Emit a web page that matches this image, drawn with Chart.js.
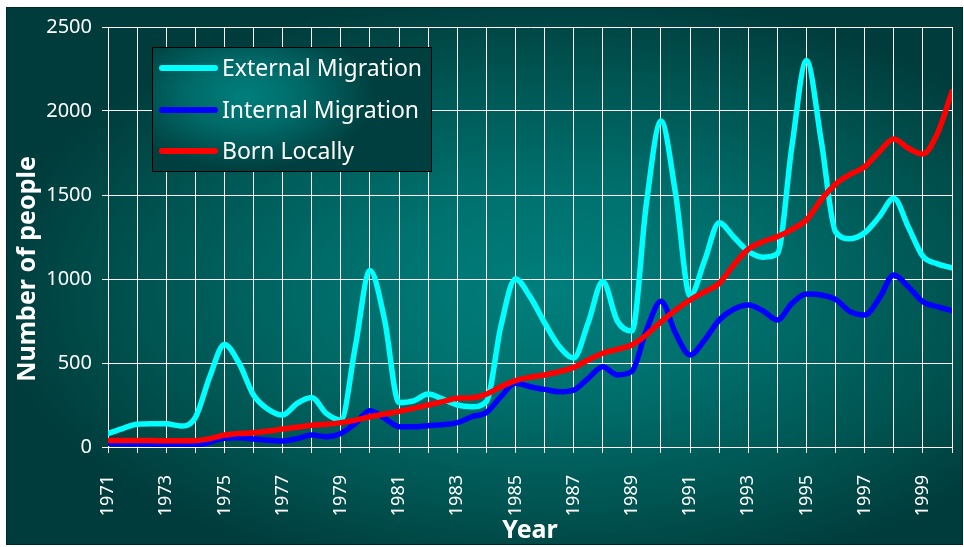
<!DOCTYPE html>
<html>
<head>
<meta charset="utf-8">
<script src="https://cdn.jsdelivr.net/npm/chart.js@4/dist/chart.umd.min.js"></script>
<style>
  html, body { margin: 0; padding: 0; background: #ffffff; }
  #wrap { width: 964px; height: 547px; }
</style>
</head>
<body>
<div id="wrap"><canvas id="chart" width="964" height="547"></canvas></div>
<script>
// Half-yearly readings, 1971 to 2000
const years = [
  1971, 1971.5, 1972, 1972.5, 1973, 1973.5, 1974, 1974.5, 1975, 1975.5,
  1976, 1976.5, 1977, 1977.5, 1978, 1978.5, 1979, 1979.5, 1980, 1980.5,
  1981, 1981.5, 1982, 1982.5, 1983, 1983.5, 1984, 1984.5, 1985, 1985.5,
  1986, 1986.5, 1987, 1987.5, 1988, 1988.5, 1989, 1989.5, 1990, 1990.5,
  1991, 1991.5, 1992, 1992.5, 1993, 1993.5, 1994, 1994.5, 1995, 1995.5,
  1996, 1996.5, 1997, 1997.5, 1998, 1998.5, 1999, 1999.5, 2000
];

const externalMigration = [
  80, 110, 135, 138, 138, 125, 175, 420, 610, 500,
  310, 225, 190, 260, 295, 200, 160, 600, 1050, 760,
  265, 275, 315, 285, 250, 240, 270, 720, 1000, 895,
  740, 600, 530, 740, 985, 750, 690, 1450, 1940, 1510,
  900, 1110, 1335, 1250, 1165, 1130, 1150, 1790, 2300, 1830,
  1280, 1240, 1275, 1370, 1480, 1310, 1135, 1090, 1067
];

const internalMigration = [
  22, 20, 18, 17, 15, 10, 8, 30, 52, 55,
  48, 40, 36, 50, 71, 61, 81, 141, 216, 171,
  121, 120, 127, 133, 145, 180, 205, 300, 379, 359,
  343, 329, 339, 409, 478, 429, 450, 696, 868, 677,
  548, 637, 756, 820, 845, 811, 756, 855, 911, 905,
  879, 806, 786, 885, 1024, 954, 865, 835, 811
];

const bornLocally = [
  38, 38, 38, 38, 37, 37, 38, 50, 71, 80,
  85, 95, 107, 118, 129, 135, 145, 160, 180, 196,
  212, 230, 250, 270, 290, 293, 315, 359, 395, 415,
  429, 448, 474, 518, 558, 581, 607, 667, 745, 815,
  875, 924, 974, 1083, 1177, 1222, 1252, 1296, 1351, 1470,
  1565, 1623, 1668, 1758, 1833, 1778, 1744, 1867, 2115
];

// Years that carry a label on the horizontal axis
const labelledYears = [1971, 1973, 1975, 1977, 1979, 1981, 1983, 1985, 1987,
  1989, 1991, 1993, 1995, 1997, 1999];

const seriesNames = ['External Migration', 'Internal Migration', 'Born Locally'];
const seriesColors = ['#00ffff', '#0000ff', '#ff0000'];

const FONT = "'Noto Sans', 'DejaVu Sans', sans-serif";

function toPoints(values) {
  return values.map((v, i) => ({ x: years[i], y: v }));
}

function ellipseGradientFill(ctx, x, y, w, h, cx, cy, rx, ry, stops) {
  ctx.save();
  ctx.beginPath();
  ctx.rect(x, y, w, h);
  ctx.clip();
  ctx.translate(cx, cy);
  ctx.scale(1, ry / rx);
  const g = ctx.createRadialGradient(0, 0, 0, 0, 0, rx);
  stops.forEach(s => g.addColorStop(s[0], s[1]));
  ctx.fillStyle = g;
  ctx.fillRect(-cx - 10, -(cy + 10) * rx / ry, 2000, 2000 * rx / ry);
  ctx.restore();
}

// Panel background with a soft centred glow
const backdrop = {
  id: 'backdrop',
  beforeDraw(chart) {
    const ctx = chart.ctx;
    ctx.save();
    ctx.fillStyle = '#ffffff';
    ctx.fillRect(0, 0, chart.width, chart.height);
    ellipseGradientFill(ctx, 6, 7, 957, 538, 550, 290, 560, 300,
      [[0, '#007f7c'], [0.35, '#00706d'], [0.75, '#00524f'], [1, '#003c3c']]);
    ctx.strokeStyle = '#002a2a';
    ctx.lineWidth = 1;
    ctx.strokeRect(6.5, 7.5, 956, 537);
    ctx.restore();
  }
};

// Axis titles and the boxed legend
const decorations = {
  id: 'decorations',
  afterDraw(chart) {
    const ctx = chart.ctx;
    ctx.save();
    ctx.fillStyle = '#ffffff';
    ctx.textAlign = 'center';
    ctx.textBaseline = 'middle';
    ctx.font = 'bold 25px ' + FONT;
    ctx.fillText('Year', (chart.chartArea.left + chart.chartArea.right) / 2, 531);
    ctx.save();
    ctx.translate(28, 269);
    ctx.rotate(-Math.PI / 2);
    ctx.fillText('Number of people', 0, 0);
    ctx.restore();

    // legend box
    const bx = 152, by = 47, bw = 279, bh = 124;
    ellipseGradientFill(ctx, bx, by, bw, bh, 245, 95, 130, 75,
      [[0, '#007f7c'], [0.45, '#006a68'], [1, '#003f3f']]);
    ctx.strokeStyle = '#000000';
    ctx.lineWidth = 1;
    ctx.strokeRect(bx + 0.5, by + 0.5, bw, bh);

    ctx.font = '23px ' + FONT;
    ctx.textAlign = 'left';
    const rows = [68, 110, 151];
    chart.data.datasets.forEach((ds, i) => {
      const y = rows[i];
      ctx.strokeStyle = ds.borderColor;
      ctx.lineWidth = 6;
      ctx.lineCap = 'round';
      ctx.beginPath();
      ctx.moveTo(162, y);
      ctx.lineTo(215, y);
      ctx.stroke();
      ctx.fillStyle = '#ffffff';
      ctx.fillText(ds.label, 222, y + 1);
    });
    ctx.restore();
  }
};

function makeSet(i, values, order) {
  return {
    label: seriesNames[i],
    data: toPoints(values),
    borderColor: seriesColors[i],
    backgroundColor: seriesColors[i],
    borderWidth: 5.5,
    pointRadius: 0,
    fill: false,
    cubicInterpolationMode: 'monotone',
    borderCapStyle: 'round',
    borderJoinStyle: 'round',
    order: order
  };
}

function noOverflow(scale) {
  scale.paddingLeft = 0;
  scale.paddingRight = 0;
  scale.paddingTop = 0;
  scale.paddingBottom = 0;
}

new Chart(document.getElementById('chart'), {
  type: 'line',
  data: {
    datasets: [
      makeSet(0, externalMigration, 3),
      makeSet(1, internalMigration, 2),
      makeSet(2, bornLocally, 1)
    ]
  },
  options: {
    responsive: false,
    animation: false,
    layout: { padding: { top: 27, right: 12, left: 0, bottom: 0 } },
    plugins: {
      legend: { display: false },
      tooltip: { enabled: false }
    },
    scales: {
      x: {
        type: 'linear',
        min: 1971,
        max: 2000,
        afterFit(scale) { scale.height = 100; noOverflow(scale); },
        grid: { color: '#ffffff', lineWidth: 1, tickLength: 6, tickColor: '#ffffff' },
        border: { color: '#ffffff', width: 1 },
        ticks: {
          stepSize: 1,
          autoSkip: false,
          maxRotation: 90,
          minRotation: 90,
          padding: 22,
          color: '#ffffff',
          font: { family: FONT, size: 18 },
          callback(value) {
            const yr = Math.round(value);
            return labelledYears.includes(yr) ? String(yr) : '';
          }
        }
      },
      y: {
        min: 0,
        max: 2500,
        afterFit(scale) { scale.width = 108; noOverflow(scale); },
        grid: { color: '#ffffff', lineWidth: 1, tickLength: 6, tickColor: '#ffffff' },
        border: { color: '#ffffff', width: 1 },
        ticks: {
          stepSize: 500,
          padding: 10,
          color: '#ffffff',
          font: { family: FONT, size: 20 },
          callback(value) { return String(value); }
        }
      }
    }
  },
  plugins: [backdrop, decorations]
});
</script>
</body>
</html>
